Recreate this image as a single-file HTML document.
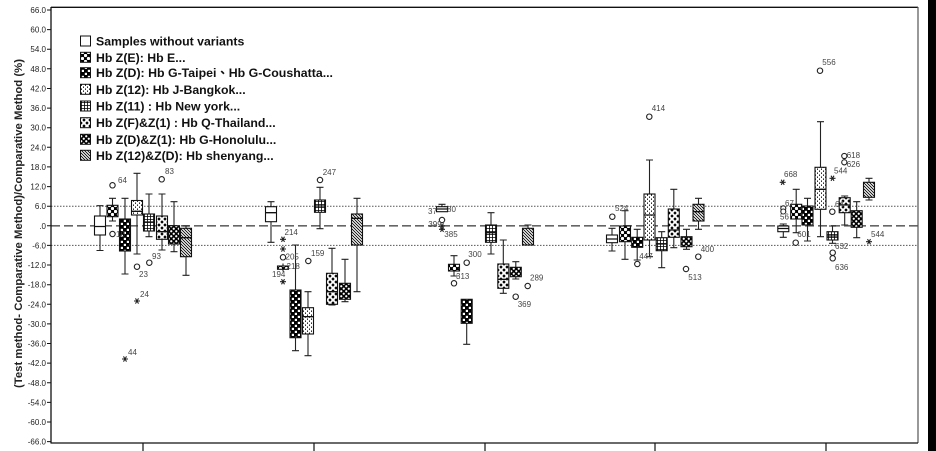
<!DOCTYPE html>
<html><head><meta charset="utf-8"><style>
html,body{margin:0;padding:0;background:#fff;}
svg{display:block;font-family:"Liberation Sans","Noto Sans CJK TC",Arial,sans-serif;}
</style></head><body>
<svg width="936" height="451" viewBox="0 0 936 451" xmlns="http://www.w3.org/2000/svg">
<defs>
<pattern id="pE" width="6" height="6" patternUnits="userSpaceOnUse"><rect width="6" height="6" fill="#000"/><circle cx="1.5" cy="1.5" r="1.65" fill="#fff"/><circle cx="4.5" cy="4.5" r="1.65" fill="#fff"/></pattern>
<pattern id="pZD" width="6" height="6" patternUnits="userSpaceOnUse"><rect width="6" height="6" fill="#000"/><rect x="0.8" y="0.8" width="2.2" height="2.2" fill="#fff"/><rect x="3.8" y="3.8" width="2.2" height="2.2" fill="#fff"/></pattern>
<pattern id="pZ12" width="4" height="4" patternUnits="userSpaceOnUse"><rect width="4" height="4" fill="#fff"/><rect x="1" y="0.5" width="1" height="1.3" fill="#000"/><rect x="3" y="2.5" width="1" height="1.3" fill="#000"/></pattern>
<pattern id="pZ11" width="3" height="3" patternUnits="userSpaceOnUse"><rect width="3" height="3" fill="#fff"/><path d="M0 0.5H3M0.5 0V3" stroke="#000" stroke-width="0.8"/></pattern>
<pattern id="pF" width="6" height="6" patternUnits="userSpaceOnUse"><rect width="6" height="6" fill="#fff"/><polygon points="3,1.3 4.7,3 3,4.7 1.3,3" fill="#000"/><polygon points="0,-1.7 1.7,0 0,1.7 -1.7,0" fill="#000"/><polygon points="6,-1.7 7.7,0 6,1.7 4.3,0" fill="#000"/><polygon points="0,4.3 1.7,6 0,7.7 -1.7,6" fill="#000"/><polygon points="6,4.3 7.7,6 6,7.7 4.3,6" fill="#000"/></pattern>
<pattern id="pDZ1" width="5" height="5" patternUnits="userSpaceOnUse"><rect width="5" height="5" fill="#000"/><circle cx="1.25" cy="1.25" r="1.1" fill="#fff"/><circle cx="3.75" cy="3.75" r="1.1" fill="#fff"/></pattern>
<pattern id="pH" width="3" height="3" patternUnits="userSpaceOnUse"><rect width="3" height="3" fill="#fff"/><path d="M-1 -1L4 4M-1 2L1 4M2 -1L4 1" stroke="#000" stroke-width="0.9"/></pattern>
</defs>

<rect x="928" y="0" width="8" height="451" fill="#000"/>

<!-- reference lines -->
<line x1="51" y1="206.2" x2="918" y2="206.2" stroke="#555" stroke-width="1" stroke-dasharray="1.5 1.5"/>
<line x1="51" y1="245.4" x2="918" y2="245.4" stroke="#555" stroke-width="1" stroke-dasharray="1.5 1.5"/>
<line x1="51" y1="225.8" x2="918" y2="225.8" stroke="#666" stroke-width="1.6" stroke-dasharray="9 4"/>

<!-- frame -->
<line x1="51" y1="7.3" x2="918" y2="7.3" stroke="#111" stroke-width="1.3"/>
<line x1="918" y1="7" x2="918" y2="443" stroke="#555" stroke-width="1.2"/>
<line x1="51" y1="443" x2="918" y2="443" stroke="#111" stroke-width="1.3"/>
<line x1="51" y1="7" x2="51" y2="443.5" stroke="#111" stroke-width="1.3"/>
<path d="M143 443V451M314 443V451M485 443V451M655 443V451M826 443V451" stroke="#111" stroke-width="1.2"/>

<!-- y ticks -->
<g stroke="#111" stroke-width="1">
<path d="M47 10H51M47 29.6H51M47 49.2H51M47 68.8H51M47 88.5H51M47 108.1H51M47 127.7H51M47 147.3H51M47 166.9H51M47 186.6H51M47 206.2H51M47 225.8H51M47 245.4H51M47 265H51M47 284.7H51M47 304.3H51M47 323.9H51M47 343.5H51M47 363.1H51M47 382.8H51M47 402.4H51M47 422H51M47 441.6H51"/>
</g>
<g font-size="8" fill="#222" text-anchor="end">
<text x="46" y="13">66.0</text><text x="46" y="32.6">60.0</text><text x="46" y="52.2">54.0</text><text x="46" y="71.8">48.0</text><text x="46" y="91.5">42.0</text><text x="46" y="111.1">36.0</text><text x="46" y="130.7">30.0</text><text x="46" y="150.3">24.0</text><text x="46" y="169.9">18.0</text><text x="46" y="189.6">12.0</text><text x="46" y="209.2">6.0</text><text x="46" y="228.8">.0</text><text x="46" y="248.4">-6.0</text><text x="46" y="268">-12.0</text><text x="46" y="287.7">-18.0</text><text x="46" y="307.3">-24.0</text><text x="46" y="326.9">-30.0</text><text x="46" y="346.5">-36.0</text><text x="46" y="366.1">-42.0</text><text x="46" y="385.8">-48.0</text><text x="46" y="405.4">-54.0</text><text x="46" y="425">-60.0</text><text x="46" y="444.6">-66.0</text>
</g>

<text transform="translate(22,223.5) rotate(-90)" text-anchor="middle" font-size="11" font-weight="bold" fill="#222" textLength="329" lengthAdjust="spacingAndGlyphs">(Test method- Comparative Method)/Comparative Method (%)</text>

<!-- legend -->
<g stroke="#111" stroke-width="1">
<rect x="80.5" y="36" width="10" height="10" fill="#fff"/>
<rect x="80.5" y="52.3" width="10" height="10" fill="url(#pE)"/>
<rect x="80.5" y="67.7" width="10" height="10" fill="url(#pZD)"/>
<rect x="80.5" y="84.3" width="10" height="10" fill="url(#pZ12)"/>
<rect x="80.5" y="101" width="10" height="10" fill="url(#pZ11)"/>
<rect x="80.5" y="117.7" width="10" height="10" fill="url(#pF)"/>
<rect x="80.5" y="134.3" width="10" height="10" fill="url(#pDZ1)"/>
<rect x="80.5" y="150.3" width="10" height="10" fill="url(#pH)"/>
</g>
<g font-size="12.3" font-weight="bold" fill="#111">
<text x="96" y="45.5">Samples without variants</text>
<text x="96" y="61.8">Hb Z(E): Hb E...</text>
<text x="96" y="77.2" textLength="237" lengthAdjust="spacingAndGlyphs">Hb Z(D): Hb G-Taipei、Hb G-Coushatta...</text>
<text x="96" y="93.8">Hb Z(12): Hb J-Bangkok...</text>
<text x="96" y="110.5">Hb Z(11) : Hb New york...</text>
<text x="96" y="127.2">Hb Z(F)&amp;Z(1) : Hb Q-Thailand...</text>
<text x="96" y="143.8">Hb Z(D)&amp;Z(1): Hb G-Honolulu...</text>
<text x="96" y="159.8">Hb Z(12)&amp;Z(D): Hb shenyang...</text>
</g>

<!-- whiskers -->
<g stroke="#222" stroke-width="1.1" fill="none">
<path d="M100 205.7V216M100 235V250.5M96.5 205.7h7M96.5 250.5h7"/>
<path d="M112.5 198.3V205.3M112.5 216.7V221M109 198.3h7M109 221h7"/>
<path d="M125 198.3V219M125 251V274M121.5 198.3h7M121.5 274h7"/>
<path d="M137 173.3V200.5M137 215V254M133.5 173.3h7M133.5 254h7"/>
<path d="M149 194V214M149 231V236.7M145.5 194h7M145.5 236.7h7"/>
<path d="M162 194V216M162 239.3V250M158.5 194h7M158.5 250h7"/>
<path d="M174 201.7V225.7M174 244V251.7M170.5 201.7h7M170.5 251.7h7"/>
<path d="M186 226V228.3M186 256.7V275.3M182.5 226h7M182.5 275.3h7"/>

<path d="M271 201.7V206.7M271 221.7V242.3M267.5 201.7h7M267.5 242.3h7"/>
<path d="M283 263.5V266M283 269.3V271.5"/>
<path d="M295.5 245V290M295.5 337.7V350.7M292 245h7M292 350.7h7"/>
<path d="M308 291.7V307.7M308 334V355.7M304.5 291.7h7M304.5 355.7h7"/>
<path d="M320 187.3V200M320 212.3V228.7M316.5 187.3h7M316.5 228.7h7"/>
<path d="M332 248.3V273.3M332 304.3V305M328.5 248.3h7M328.5 305h7"/>
<path d="M345 259.3V283.3M345 299.3V301.7M341.5 259.3h7M341.5 301.7h7"/>
<path d="M357 198.3V214M357 245V291.7M353.5 198.3h7M353.5 291.7h7"/>

<path d="M442 204.3V206.7M438.5 204.3h7"/>
<path d="M454 255.7V264.3M454 271V276M450.5 255.7h7M450.5 276h7"/>
<path d="M466.7 323.3V344.3M463.2 344.3h7"/>
<path d="M491 212.7V225M491 242.3V254M487.5 212.7h7M487.5 254h7"/>
<path d="M503.3 240V264M503.3 288.3V293.3M499.8 240h7M499.8 293.3h7"/>
<path d="M515.8 261.7V267.3M515.8 276.7V279M512.3 261.7h7M512.3 279h7"/>
<path d="M528 225V228.3M524.5 225h7"/>

<path d="M612 228.3V235M612 242.7V251M608.5 228.3h7M608.5 251h7"/>
<path d="M625 210.7V226M625 241.7V259.3M621.5 210.7h7M621.5 259.3h7"/>
<path d="M637.2 229.3V237.3M637.2 247.3V260M633.7 229.3h7M633.7 260h7"/>
<path d="M649.5 160V194M649.5 240V256.7M646 160h7M646 256.7h7"/>
<path d="M661.7 231.7V237.7M661.7 250.7V267.7M658.2 231.7h7M658.2 267.7h7"/>
<path d="M673.8 189.3V209M673.8 237.3V247.7M670.3 189.3h7M670.3 247.7h7"/>
<path d="M686.5 229.3V236.7M686.5 246.7V249.3M683 229.3h7M683 249.3h7"/>
<path d="M698.5 198.3V204.3M698.5 221V229.3M695 198.3h7M695 229.3h7"/>

<path d="M783.3 224V226M783.3 231.7V237.3M779.8 224h7M779.8 237.3h7"/>
<path d="M796.2 189.3V204.3M796.2 219V232.7M792.7 189.3h7M792.7 232.7h7"/>
<path d="M807.5 198.3V206M807.5 225V241M804 198.3h7M804 241h7"/>
<path d="M820.5 121.7V167.3M820.5 209.3V236.7M817 121.7h7M817 236.7h7"/>
<path d="M832.5 226V231.7M832.5 240V243.3M829 226h7M829 243.3h7"/>
<path d="M844.7 196V197.7M844.7 212.7V225M841.2 196h7M841.2 225h7"/>
<path d="M856.7 201.7V210.7M856.7 227.3V237.7M853.2 201.7h7M853.2 237.7h7"/>
<path d="M869 178.3V182.3M869 197.3V200M865.5 178.3h7M865.5 200h7"/>
</g>

<!-- boxes -->
<g stroke="#111" stroke-width="1.1">
<rect x="94.5" y="216" width="11" height="19" fill="#fff"/>
<rect x="107" y="205.3" width="11" height="11.4" fill="url(#pE)"/>
<rect x="119.5" y="219" width="11" height="32" fill="url(#pZD)"/>
<rect x="131.5" y="200.5" width="11" height="14.5" fill="url(#pZ12)"/>
<rect x="143.5" y="214" width="11" height="17" fill="url(#pZ11)"/>
<rect x="156.5" y="216" width="11" height="23.3" fill="url(#pF)"/>
<rect x="168.5" y="225.7" width="11" height="18.3" fill="url(#pDZ1)"/>
<rect x="180.5" y="228.3" width="11" height="28.4" fill="url(#pH)"/>

<rect x="265.5" y="206.7" width="11" height="15" fill="#fff"/>
<rect x="277.5" y="266" width="11" height="3.3" fill="url(#pE)"/>
<rect x="290" y="290" width="11" height="47.7" fill="url(#pZD)"/>
<rect x="302.5" y="307.7" width="11" height="26.3" fill="url(#pZ12)"/>
<rect x="314.5" y="200" width="11" height="12.3" fill="url(#pZ11)"/>
<rect x="326.5" y="273.3" width="11" height="31" fill="url(#pF)"/>
<rect x="339.5" y="283.3" width="11" height="16" fill="url(#pDZ1)"/>
<rect x="351.5" y="214" width="11" height="31" fill="url(#pH)"/>

<rect x="436.5" y="206.7" width="11" height="5" fill="#fff"/>
<rect x="448.5" y="264.3" width="11" height="6.7" fill="url(#pE)"/>
<rect x="461.2" y="299.3" width="11" height="24" fill="url(#pZD)"/>
<rect x="485.5" y="225" width="11" height="17.3" fill="url(#pZ11)"/>
<rect x="497.8" y="264" width="11" height="24.3" fill="url(#pF)"/>
<rect x="510.3" y="267.3" width="11" height="9.4" fill="url(#pDZ1)"/>
<rect x="522.5" y="228.3" width="11" height="16.7" fill="url(#pH)"/>

<rect x="606.5" y="235" width="11" height="7.7" fill="#fff"/>
<rect x="619.5" y="226" width="11" height="15.7" fill="url(#pE)"/>
<rect x="631.7" y="237.3" width="11" height="10" fill="url(#pZD)"/>
<rect x="644" y="194" width="11" height="46" fill="url(#pZ12)"/>
<rect x="656.2" y="237.7" width="11" height="13" fill="url(#pZ11)"/>
<rect x="668.3" y="209" width="11" height="28.3" fill="url(#pF)"/>
<rect x="681" y="236.7" width="11" height="10" fill="url(#pDZ1)"/>
<rect x="693" y="204.3" width="11" height="16.7" fill="url(#pH)"/>

<rect x="777.8" y="226" width="11" height="5.7" fill="#fff"/>
<rect x="790.7" y="204.3" width="11" height="14.7" fill="url(#pE)"/>
<rect x="802" y="206" width="11" height="19" fill="url(#pZD)"/>
<rect x="815" y="167.3" width="11" height="42" fill="url(#pZ12)"/>
<rect x="827" y="231.7" width="11" height="8.3" fill="url(#pZ11)"/>
<rect x="839.2" y="197.7" width="11" height="15" fill="url(#pF)"/>
<rect x="851.2" y="210.7" width="11" height="16.6" fill="url(#pDZ1)"/>
<rect x="863.5" y="182.3" width="11" height="15" fill="url(#pH)"/>
</g>

<!-- medians -->
<g stroke="#111" stroke-width="1.3">
<path d="M94.5 226.5h11M131.5 211.3h11M143.5 222h11M156.5 231.7h11M180.5 237.7h11"/>
<path d="M265.5 212.7h11M302.5 316.7h11M314.5 206h11M326.5 291.7h11M351.5 218.3h11"/>
<path d="M436.5 209h11M485.5 232.7h11M497.8 279.3h11"/>
<path d="M606.5 239h11M644 215h11M656.2 244h11M668.3 230h11M693 211.7h11"/>
<path d="M777.8 228.5h11M815 189.3h11M827 236h11M839.2 205h11"/>
</g>

<!-- outliers circles -->
<g fill="#fff" stroke="#222" stroke-width="1.1">
<circle cx="112.5" cy="185.3" r="2.7"/><circle cx="112.5" cy="234" r="2.7"/><circle cx="137" cy="266.7" r="2.7"/><circle cx="149.3" cy="262.7" r="2.7"/><circle cx="161.7" cy="179.3" r="2.7"/>
<circle cx="283" cy="257.3" r="2.7"/><circle cx="308.3" cy="261" r="2.7"/><circle cx="320" cy="180" r="2.7"/>
<circle cx="442" cy="220" r="2.7"/><circle cx="454" cy="283.3" r="2.7"/><circle cx="466.7" cy="262.7" r="2.7"/><circle cx="515.7" cy="296.7" r="2.7"/><circle cx="527.7" cy="286" r="2.7"/>
<circle cx="612.3" cy="216.7" r="2.7"/><circle cx="637.3" cy="264" r="2.7"/><circle cx="649.3" cy="116.7" r="2.7"/><circle cx="686" cy="269" r="2.7"/><circle cx="698.3" cy="256.7" r="2.7"/>
<circle cx="783.3" cy="208.3" r="2.5"/><circle cx="783.3" cy="211.5" r="2.5"/><circle cx="795.7" cy="242.7" r="2.7"/><circle cx="820" cy="70.7" r="2.7"/><circle cx="832.3" cy="211.7" r="2.7"/><circle cx="832.7" cy="252.7" r="2.7"/><circle cx="832.7" cy="258.3" r="2.7"/><circle cx="844.3" cy="156" r="2.6"/><circle cx="844.3" cy="162.3" r="2.6"/>
</g>

<!-- stars -->
<g stroke="#222" stroke-width="1.1" fill="none">
<path d="M134 301h6M135.5 298.4l3 5.2M138.5 298.4l-3 5.2"/>
<path d="M122 359h6M123.5 356.4l3 5.2M126.5 356.4l-3 5.2"/>
<path d="M280 239.3h6M281.5 236.7l3 5.2M284.5 236.7l-3 5.2"/>
<path d="M280 249h6M281.5 246.4l3 5.2M284.5 246.4l-3 5.2"/>
<path d="M280 281.7h6M281.5 279.1l3 5.2M284.5 279.1l-3 5.2"/>
<path d="M439 226h6M440.5 223.4l3 5.2M443.5 223.4l-3 5.2"/>
<path d="M439 229.3h6M440.5 226.7l3 5.2M443.5 226.7l-3 5.2"/>
<path d="M779.7 182.3h6M781.2 179.7l3 5.2M784.2 179.7l-3 5.2"/>
<path d="M829.5 178.3h6M831 175.7l3 5.2M834 175.7l-3 5.2"/>
<path d="M866 241.7h6M867.5 239.1l3 5.2M870.5 239.1l-3 5.2"/>
</g>

<!-- outlier labels -->
<g font-size="8" fill="#444">
<text x="118" y="183">64</text><text x="116" y="237">10</text><text x="139" y="277">23</text><text x="140" y="297">24</text><text x="128" y="355">44</text><text x="152" y="259">93</text><text x="165" y="174">83</text>
<text x="284.5" y="235">214</text><text x="285.5" y="259.5">205</text><text x="286.5" y="269">218</text><text x="272" y="277">194</text><text x="311" y="256">159</text><text x="322.7" y="175">247</text>
<text x="428" y="214">37</text><text x="447" y="212">80</text><text x="428.3" y="227">399</text><text x="444.3" y="237">385</text><text x="456" y="279">313</text><text x="468.3" y="257">300</text><text x="517.7" y="307">369</text><text x="530" y="280.5">289</text>
<text x="615" y="211">524</text><text x="639.3" y="259">447</text><text x="651.7" y="111">414</text><text x="688.3" y="280">513</text><text x="700.7" y="252">400</text>
<text x="784" y="177">668</text><text x="785" y="206">67</text><text x="780" y="219.5">56</text><text x="797.3" y="237">601</text><text x="822.3" y="65">556</text><text x="834" y="173.5">544</text><text x="835" y="207">64</text><text x="835" y="249">632</text><text x="835" y="270">636</text><text x="846.7" y="158">618</text><text x="846.7" y="167">626</text><text x="871" y="237">544</text>
</g>
</svg>
</body></html>
